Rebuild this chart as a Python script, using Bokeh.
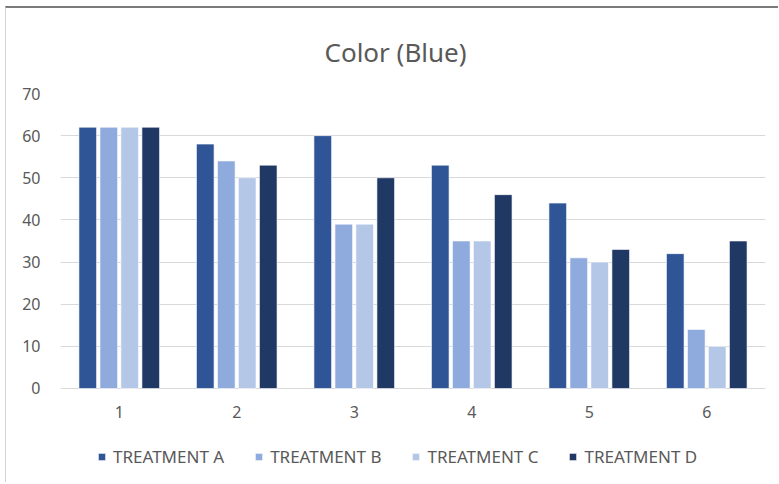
from bokeh.plotting import figure
from bokeh.models import FactorRange, Legend, LegendItem, ColumnDataSource
from bokeh.core.properties import value
from bokeh.transform import dodge
from bokeh.embed import file_html
from bokeh.resources import INLINE

# Data
samples = ["1", "2", "3", "4", "5", "6"]
treatment_a = [62, 58, 60, 53, 44, 32]
treatment_b = [62, 54, 39, 35, 31, 14]
treatment_c = [62, 50, 39, 35, 30, 10]
treatment_d = [62, 53, 50, 46, 33, 35]
series_names = ["TREATMENT A", "TREATMENT B", "TREATMENT C", "TREATMENT D"]
series_colors = ["#2F5597", "#8FAADC", "#B4C7E7", "#203864"]
y_ticks = [0, 10, 20, 30, 40, 50, 60, 70]

FONT = "Noto Sans"
TEXT_GRAY = "#595959"

source = ColumnDataSource(dict(
    x=samples, base=[0] * len(samples),
    a=treatment_a, b=treatment_b, c=treatment_c, d=treatment_d))

# The frame runs down to the bottom of the canvas so that the legend can
# sit inside it, underneath the category labels; the value axis starts at 0.
p = figure(
    width=773, height=476,
    x_range=FactorRange(*samples, range_padding=0),
    y_range=(-22.78, 70),
    x_axis_location=None,
    output_backend="svg", toolbar_location=None,
    min_border_left=54, min_border_right=14,
    min_border_top=85, min_border_bottom=0,
    title="Color (Blue)",
)
# sheet frame: dark rule along the top, light rule down the left side
p.styles = {
    "margin-left": "5px", "margin-top": "6px",
    "border-top": "2px solid #7a7a7a",
    "border-left": "1px solid #d4d4d4",
}
p.outline_line_color = None
p.background_fill_color = "white"
p.border_fill_color = "white"

p.title.align = "left"
p.title.offset = 264
p.title.standoff = 47
p.title.text_font = FONT
p.title.text_font_size = "26px"
p.title.text_font_style = "normal"
p.title.text_color = TEXT_GRAY

p.ygrid.grid_line_color = "#d9d9d9"
p.ygrid.ticker = y_ticks
p.xgrid.grid_line_color = None

offsets = [-0.268, -0.089, 0.089, 0.268]
cols = ["a", "b", "c", "d"]
renderers = []
for col, off, color in zip(cols, offsets, series_colors):
    r = p.vbar(x=dodge("x", off, range=p.x_range), top=col, bottom=0, width=0.15,
               source=source, fill_color=color, line_color="white",
               line_alpha=0.6, line_width=1)
    renderers.append(r)

# category labels under the baseline
p.text(x="x", y="base", text="x", source=source, y_offset=24,
       text_align="center", text_baseline="middle",
       text_font=value(FONT), text_font_size="16px", text_color=TEXT_GRAY)

legend = Legend(
    items=[LegendItem(label=n, renderers=[r]) for n, r in zip(series_names, renderers)],
    orientation="horizontal", location=(37, 16),
    label_text_font=FONT, label_text_font_size="17px", label_text_color=TEXT_GRAY,
    glyph_width=9, glyph_height=9, label_standoff=7, spacing=30,
    border_line_color=None, background_fill_alpha=0,
    margin=0, padding=0,
)
p.add_layout(legend, "center")

p.yaxis.ticker = y_ticks
p.yaxis.axis_line_color = None
p.yaxis.major_tick_line_color = None
p.yaxis.minor_tick_line_color = None
p.yaxis.major_label_text_font = FONT
p.yaxis.major_label_text_font_size = "16px"
p.yaxis.major_label_text_color = TEXT_GRAY
p.yaxis.major_label_standoff = 14

open("out.html", "w").write(file_html(p, INLINE))
